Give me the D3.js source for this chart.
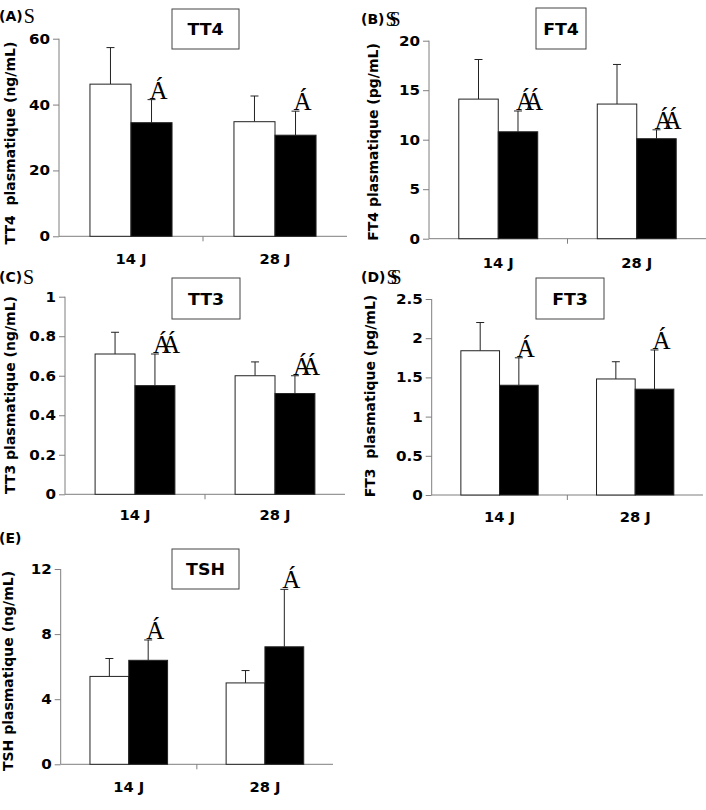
<!DOCTYPE html>
<html><head><meta charset="utf-8">
<script src="https://cdn.jsdelivr.net/npm/d3@7"></script>
<style>body{margin:0;background:#fff} svg{display:block} text{white-space:pre}</style>
</head><body><svg id="c" width="706" height="810"></svg>
<script>
const categories = ["14 J", "28 J"];
const panelLabels = ["(A)", "(B)", "(C)", "(D)", "(E)"];
const panelGlyphs = ["S", "SS", "S", "SS", ""];
const titles = ["TT4", "FT4", "TT3", "FT3", "TSH"];
const yTitles = ["TT4  plasmatique (ng/mL)", "FT4 plasmatique (pg/mL)", "TT3 plasmatique (ng/mL)", "FT3  plasmatique (pg/mL)", "TSH plasmatique (ng/mL)"];
const yMax = [60, 20, 1, 2.5, 12];
const yStep = [20, 5, 0.2, 0.5, 4];
const controlMean = [[46.2, 34.8], [14.1, 13.6], [0.71, 0.60], [1.84, 1.48], [5.4, 5.0]];
const controlErr = [[11.1, 7.8], [4.0, 4.0], [0.11, 0.07], [0.36, 0.22], [1.1, 0.76]];
const treatedMean = [[34.5, 30.7], [10.8, 10.1], [0.55, 0.51], [1.40, 1.35], [6.39, 7.22]];
const treatedErr = [[7.0, 7.3], [2.1, 0.9], [0.16, 0.09], [0.35, 0.50], [1.25, 3.53]];
const marks = [["Á", "Á"], ["ÁÁ", "ÁÁ"], ["ÁÁ", "ÁÁ"], ["Á", "Á"], ["Á", "Á"]];

// layout (pixel geometry only)
const layout = [
  {x0: 59, x1: 347, yT: 38.7, yB: 236.3, box: [172, 9, 67, 40], lab: [-1, 21], yt: [10, 143], xl: 264},
  {x0: 429, x1: 706, yT: 40.7, yB: 238.7, box: [536, 8, 50, 41], lab: [361, 24], yt: [373, 142], xl: 268},
  {x0: 65, x1: 345, yT: 296.7, yB: 494.3, box: [172, 278, 68, 41], lab: [-1, 282], yt: [10, 395], xl: 520},
  {x0: 431.7, x1: 703, yT: 299, yB: 495, box: [536, 278, 68, 41], lab: [361, 282], yt: [370, 396], xl: 522},
  {x0: 60.7, x1: 333, yT: 569, yB: 764.3, box: [172, 549, 67, 40], lab: [-1, 543], yt: [8, 671], xl: 792}
];

const SANS = "'DejaVu Sans', Verdana, sans-serif";
const SERIF = "'Liberation Serif', 'DejaVu Serif', serif";
const AXIS = "#7f7f7f";
const svg = d3.select("#c");

function stretch(sel, f) {
  sel.each(function() {
    const L = this.getComputedTextLength();
    d3.select(this).attr("textLength", L * f).attr("lengthAdjust", "spacingAndGlyphs");
  });
}

titles.forEach((title, i) => {
  const L = layout[i];
  const g = svg.append("g");
  const y = d3.scaleLinear().domain([0, yMax[i]]).range([L.yB, L.yT]);
  const x = d3.scaleBand().domain(categories).range([L.x0, L.x1]);
  const bw = x.bandwidth();
  const inner = d3.scaleBand().domain(["c", "t"]).range([bw * 0.215, bw * 0.785]);

  const ticks = d3.range(0, yMax[i] + yStep[i] / 2, yStep[i]);
  const yAxis = d3.axisLeft(y).tickValues(ticks).tickSize(6).tickPadding(3)
    .tickFormat(t => String(+t.toFixed(2)));
  const ya = g.append("g").attr("transform", `translate(${L.x0},0)`).call(yAxis);
  ya.select(".domain").attr("stroke", AXIS).attr("d", `M0,${L.yT}V${L.yB}`);
  ya.selectAll(".tick line").attr("stroke", AXIS);
  ya.selectAll(".tick text").attr("font-family", SANS).attr("font-weight", "bold")
    .attr("font-size", 14).attr("fill", "#000");
  stretch(ya.selectAll(".tick text"), 1.08);

  // x axis
  const xa = g.append("g").attr("transform", `translate(0,${L.yB})`)
    .call(d3.axisBottom(x).tickSize(0).tickPadding(0));
  xa.select(".domain").attr("stroke", AXIS).attr("d", `M${L.x0},0H${L.x1}`);
  xa.selectAll(".tick text").attr("font-family", SANS).attr("font-weight", "bold")
    .attr("font-size", 14).attr("fill", "#000").attr("y", L.xl - L.yB).attr("dy", 0);
  stretch(xa.selectAll(".tick text"), 1.05);
  xa.append("line").attr("x1", x(categories[1])).attr("x2", x(categories[1]))
    .attr("y1", 0).attr("y2", 5).attr("stroke", AXIS);

  const rows = categories.map((c, j) => [
    {cat: c, k: "c", m: controlMean[i][j], e: controlErr[i][j]},
    {cat: c, k: "t", m: treatedMean[i][j], e: treatedErr[i][j], mark: marks[i][j]}
  ]).flat();

  // error bars (behind bars)
  rows.forEach(r => {
    const cx = x(r.cat) + inner(r.k) + inner.bandwidth() / 2;
    g.append("line").attr("x1", cx).attr("x2", cx).attr("y1", y(r.m)).attr("y2", y(r.m + r.e))
      .attr("stroke", "#222").attr("stroke-width", 1);
    g.append("line").attr("x1", cx - 4).attr("x2", cx + 4).attr("y1", y(r.m + r.e)).attr("y2", y(r.m + r.e))
      .attr("stroke", "#222").attr("stroke-width", 1);
  });
  rows.forEach(r => {
    g.append("rect").attr("x", x(r.cat) + inner(r.k)).attr("width", inner.bandwidth())
      .attr("y", y(r.m)).attr("height", L.yB - y(r.m))
      .attr("fill", r.k === "c" ? "#fff" : "#000").attr("stroke", "#222").attr("stroke-width", 1);
  });
  // significance marks
  rows.filter(r => r.mark).forEach(r => {
    const cx = x(r.cat) + inner(r.k) + inner.bandwidth() / 2 + 7;
    g.append("text").attr("x", cx).attr("y", y(r.m + r.e) - 1).attr("text-anchor", "middle")
      .attr("font-family", SERIF).attr("font-size", 25).attr("letter-spacing", r.mark.length > 1 ? -9 : 0)
      .attr("fill", "#000").text(r.mark);
  });

  // title box
  g.append("rect").attr("x", L.box[0]).attr("y", L.box[1]).attr("width", L.box[2]).attr("height", L.box[3])
    .attr("fill", "#fff").attr("stroke", "#444").attr("stroke-width", 1);
  const tt = g.append("text").attr("x", L.box[0] + L.box[2] / 2).attr("y", L.box[1] + L.box[3] / 2 + 6)
    .attr("text-anchor", "middle").attr("font-family", SANS).attr("font-weight", "bold")
    .attr("font-size", 16.5).attr("fill", "#000").text(title);
  stretch(tt, 1.05);

  // panel label
  const lt = g.append("text").attr("x", L.lab[0]).attr("y", L.lab[1]).attr("font-family", SANS)
    .attr("font-weight", "bold").attr("font-size", 14).attr("fill", "#000").text(panelLabels[i]);
  const lw = lt.node().getComputedTextLength();
  if (panelGlyphs[i]) {
    g.append("text").attr("x", L.lab[0] + lw + 1).attr("y", L.lab[1] + 2).attr("font-family", SERIF)
      .attr("font-size", 20).attr("letter-spacing", -7).attr("fill", "#000").text(panelGlyphs[i]);
  }

  // y title
  g.append("text").attr("transform", `translate(${L.yt[0]},${L.yt[1]}) rotate(-90)`)
    .attr("text-anchor", "middle").attr("dominant-baseline", "central")
    .attr("font-family", SANS).attr("font-weight", "bold").attr("font-size", 14)
    .attr("fill", "#000").text(yTitles[i]);
});
</script>
</body></html>
